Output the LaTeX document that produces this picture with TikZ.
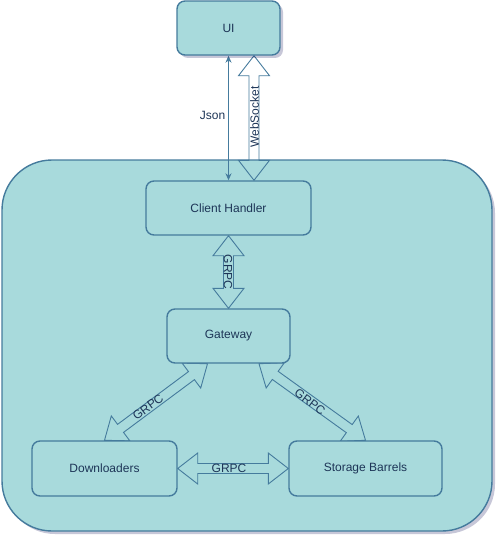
\documentclass[tikz,border=0pt]{standalone}
\usepackage{fontspec}
\setmainfont{Liberation Sans}
\usetikzlibrary{calc,shadows,arrows.meta}
\definecolor{boxfill}{HTML}{A8DADC}
\definecolor{boxline}{HTML}{457B9D}
\definecolor{boxtext}{HTML}{1D3557}
\pgfdeclarelayer{back}
\pgfdeclarelayer{mid}
\pgfsetlayers{back,mid,main}
\newcommand{\hl}{20pt}
\newcommand{\hw}{15.5pt}
\newcommand{\sw}{5pt}
\tikzset{
  box/.style={draw=boxline, fill=boxfill, line width=1.4pt, rounded corners=8pt,
    text=boxtext, font=\fontsize{12}{14}\selectfont, inner sep=0pt},
  shade3/.style={drop shadow={shadow xshift=3pt, shadow yshift=-3pt, fill=black!70!blue, opacity=0.22}},
  lbl/.style={text=boxtext, font=\fontsize{12}{14}\selectfont, inner sep=0pt},
  flex/.style={draw=boxline, line width=0.9pt, line join=miter, to path={
    -- ($(\tikztostart)!\hl!(\tikztotarget)!\hw!90:(\tikztotarget)$)
    -- ($(\tikztostart)!\hl!(\tikztotarget)!\sw!90:(\tikztotarget)$)
    -- ($(\tikztotarget)!\hl!(\tikztostart)!\sw!-90:(\tikztostart)$)
    -- ($(\tikztotarget)!\hl!(\tikztostart)!\hw!-90:(\tikztostart)$)
    -- (\tikztotarget)
    -- ($(\tikztotarget)!\hl!(\tikztostart)!\hw!90:(\tikztostart)$)
    -- ($(\tikztotarget)!\hl!(\tikztostart)!\sw!90:(\tikztostart)$)
    -- ($(\tikztostart)!\hl!(\tikztotarget)!\sw!-90:(\tikztotarget)$)
    -- ($(\tikztostart)!\hl!(\tikztotarget)!\hw!-90:(\tikztotarget)$)
    -- cycle}},
  thin/.style={draw=boxline, line width=0.9pt, {Stealth[length=7pt,width=6pt]}-{Stealth[length=7pt,width=6pt]}}
}
\begin{document}
\begin{tikzpicture}[x=1pt,y=-1pt]
\useasboundingbox (0,0) rectangle (503,543);
% boxes
\node[box, shade3, minimum width=103pt, minimum height=54pt] (ui) at (228.5,28) {UI};
\node[box, minimum width=165pt, minimum height=54pt] (ch) at (228.5,208) {Client Handler};
\node[box, minimum width=123pt, minimum height=54pt] (gw) at (228.5,336) {Gateway};
\node[box, minimum width=145pt, minimum height=55pt] (dl) at (104.5,468.5) {Downloaders};
\node[box, minimum width=153pt, minimum height=55pt] (sb) at (365.5,468.5) {Storage Barrels};
% container
\begin{pgfonlayer}{back}
\node[box, shade3, rounded corners=50pt, minimum width=490pt, minimum height=371pt] (container) at (247,345.5) {};
\end{pgfonlayer}
% connectors
\begin{pgfonlayer}{mid}
\draw[thin] (ui.south) -- (ch.north);
\draw[flex] ([xshift=25.5pt]ch.north) to ([xshift=25.5pt]ui.south);
\draw[flex] (ch.south) to (gw.north);
\draw[flex] ([xshift=-21pt]gw.south) to (dl.north);
\draw[flex] ([xshift=30.5pt]gw.south) to (sb.north);
\draw[flex] (dl.east) to (sb.west);
\end{pgfonlayer}
% labels
\node[lbl] (jsonL) at (212.5,115) {Json};
\node[lbl, rotate=90] (wsL) at (254.5,117) {WebSocket};
\node[lbl, rotate=-90] (g1) at (228,272) {GRPC};
\node[lbl, rotate=37] (g2) at (148,407) {GRPC};
\node[lbl, rotate=-37] (g3) at (310,402) {GRPC};
\node[lbl] (g4) at (229,468) {GRPC};
\end{tikzpicture}
\end{document}
